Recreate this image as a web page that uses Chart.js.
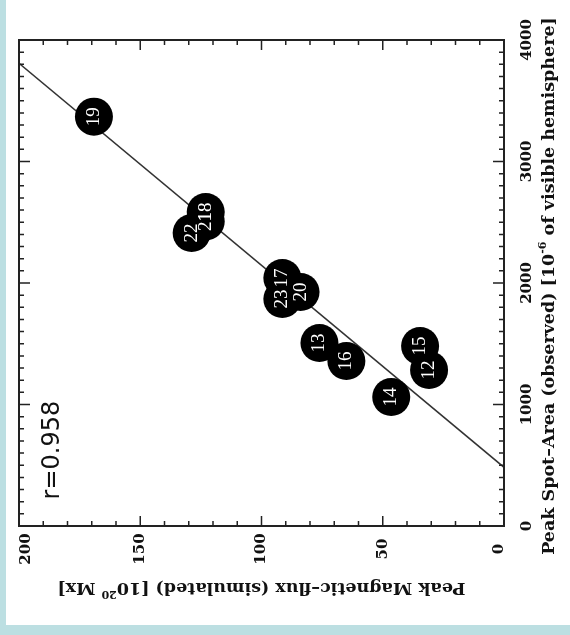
<!DOCTYPE html>
<html>
<head>
<meta charset="utf-8">
<title>Peak magnetic flux vs peak spot area</title>
<script src="https://cdn.jsdelivr.net/npm/chart.js@4.4.0/dist/chart.umd.min.js"></script>
<style>
	html, body { margin: 0; padding: 0; background: #ffffff; }
	canvas { display: block; }
</style>
</head>
<body>
<canvas id="fluxChart" width="570" height="635"></canvas>
<script>
// region numbers and their values (flux in 10^20 Mx, area in 10^-6 hemisphere)
var regionLabels = ["12", "13", "14", "15", "16", "17", "18", "19", "20", "21", "22", "23"];
var peakFlux = [30.9, 76.1, 46.5, 34.6, 65.0, 91.4, 123.0, 169.1, 83.9, 123.0, 128.8, 91.4];
var peakArea = [1284, 1506, 1062, 1481, 1358, 2041, 2584, 3369, 1926, 2506, 2412, 1868];

// straight fit line, read at both ends of the flux axis
var fitFlux = [0, 200];
var fitArea = [483, 3808];

var fluxTicks = [200, 150, 100, 50, 0];
var areaTicks = [0, 1000, 2000, 3000, 4000];
var corrText = "r=0.958";

var serif = "'DejaVu Serif', 'Liberation Serif', serif";

function toPoints(xs, ys) {
	var pts = [];
	for (var i = 0; i < xs.length; i++) {
		pts.push({x: xs[i], y: ys[i]});
	}
	return pts;
}

function rotText(ctx, text, x, y, angle, font, color) {
	ctx.save();
	ctx.translate(x, y);
	ctx.rotate(angle);
	ctx.font = font;
	ctx.fillStyle = color;
	ctx.textAlign = 'center';
	ctx.textBaseline = 'middle';
	ctx.fillText(text, 0, 0);
	ctx.restore();
}

// title with a small raised exponent in the middle, drawn at an angle
function rotTitle(ctx, before, sup, after, x, y, angle, size) {
	var font = "bold " + size + "px " + serif;
	var supFont = "bold " + Math.round(size * 0.6) + "px " + serif;
	ctx.save();
	ctx.translate(x, y);
	ctx.rotate(angle);
	ctx.fillStyle = '#111';
	ctx.textBaseline = 'middle';
	ctx.textAlign = 'left';
	ctx.font = font;
	var w1 = ctx.measureText(before).width;
	var w3 = ctx.measureText(after).width;
	ctx.font = supFont;
	var w2 = ctx.measureText(sup).width;
	var start = -(w1 + w2 + w3) / 2;
	ctx.font = font;
	ctx.fillText(before, start, 0);
	ctx.font = supFont;
	ctx.fillText(sup, start + w1, -size * 0.35);
	ctx.font = font;
	ctx.fillText(after, start + w1 + w2, 0);
	ctx.restore();
}

var framePlugin = {
	id: 'framePlugin',
	beforeDraw: function(chart) {
		var ctx = chart.ctx;
		ctx.save();
		ctx.fillStyle = '#bcdfe2';
		ctx.fillRect(0, 0, chart.width, chart.height);
		ctx.fillStyle = '#ffffff';
		ctx.fillRect(6, 0, chart.width - 6, chart.height - 10);
		ctx.restore();
	},
	afterDraw: function(chart) {
		var ctx = chart.ctx;
		var a = chart.chartArea;
		var xs = chart.scales.x;
		var ys = chart.scales.y;
		var v, px, len;

		ctx.save();
		ctx.strokeStyle = '#222';
		ctx.lineWidth = 1.5;
		ctx.beginPath();
		for (v = 0; v <= 200; v += 10) {
			px = xs.getPixelForValue(v);
			len = (v % 50 == 0) ? 10 : 5;
			ctx.moveTo(px, a.bottom);
			ctx.lineTo(px, a.bottom - len);
			ctx.moveTo(px, a.top);
			ctx.lineTo(px, a.top + len);
		}
		for (v = 0; v <= 4000; v += 100) {
			px = ys.getPixelForValue(v);
			len = (v % 1000 == 0) ? 11 : 5;
			ctx.moveTo(a.right, px);
			ctx.lineTo(a.right - len, px);
			ctx.moveTo(a.left, px);
			ctx.lineTo(a.left + len, px);
		}
		ctx.stroke();
		ctx.lineWidth = 2;
		ctx.strokeRect(a.left, a.top, a.right - a.left, a.bottom - a.top);
		ctx.restore();

		// numbers inside the circles
		var meta = chart.getDatasetMeta(0);
		meta.data.forEach(function(pt, i) {
			rotText(ctx, regionLabels[i], pt.x, pt.y, -Math.PI / 2, "19px 'Liberation Serif', serif", '#ffffff');
		});

		var tickFont = "bold 15px " + serif;
		fluxTicks.forEach(function(t) {
			var x = xs.getPixelForValue(t);
			x = Math.min(Math.max(x, a.left + 7), a.right - 5);
			rotText(ctx, String(t), x, a.bottom + 23, -Math.PI / 2, tickFont, '#111');
		});
		areaTicks.forEach(function(t) {
			rotText(ctx, String(t), a.right + 23, ys.getPixelForValue(t), -Math.PI / 2, tickFont, '#111');
		});

		rotTitle(ctx, "Peak Magnetic\u2013flux (simulated) [10", "20", " Mx]",
			(a.left + a.right) / 2, a.bottom + 62, Math.PI, 17.5);
		rotTitle(ctx, "Peak Spot\u2013Area (observed) [10", "-6", " of visible hemisphere]",
			a.right + 45, (a.top + a.bottom) / 2 + 3, -Math.PI / 2, 17.5);

		rotText(ctx, corrText, xs.getPixelForValue(186), ys.getPixelForValue(625),
			-Math.PI / 2, "24px 'DejaVu Sans', sans-serif", '#111');
	}
};

var ctx = document.getElementById("fluxChart");
var fluxChart = new Chart(ctx, {
	type: 'scatter',
	data: {
		datasets: [{
			label: 'regions',
			data: toPoints(peakFlux, peakArea),
			pointRadius: 19,
			pointBackgroundColor: '#000000',
			pointBorderColor: '#000000',
			pointBorderWidth: 0,
			order: 0
		}, {
			type: 'line',
			label: 'fit',
			data: toPoints(fitFlux, fitArea),
			borderColor: '#333333',
			borderWidth: 1.5,
			pointRadius: 0,
			fill: false,
			order: 1
		}]
	},
	plugins: [framePlugin],
	options: {
		responsive: false,
		animation: false,
		events: [],
		layout: {
			padding: {left: 18, top: 40, right: 66, bottom: 109}
		},
		plugins: {
			legend: {display: false},
			tooltip: {enabled: false}
		},
		scales: {
			x: {type: 'linear', min: 0, max: 200, reverse: true, display: false},
			y: {type: 'linear', min: 0, max: 4000, display: false}
		}
	}
});
</script>
</body>
</html>
